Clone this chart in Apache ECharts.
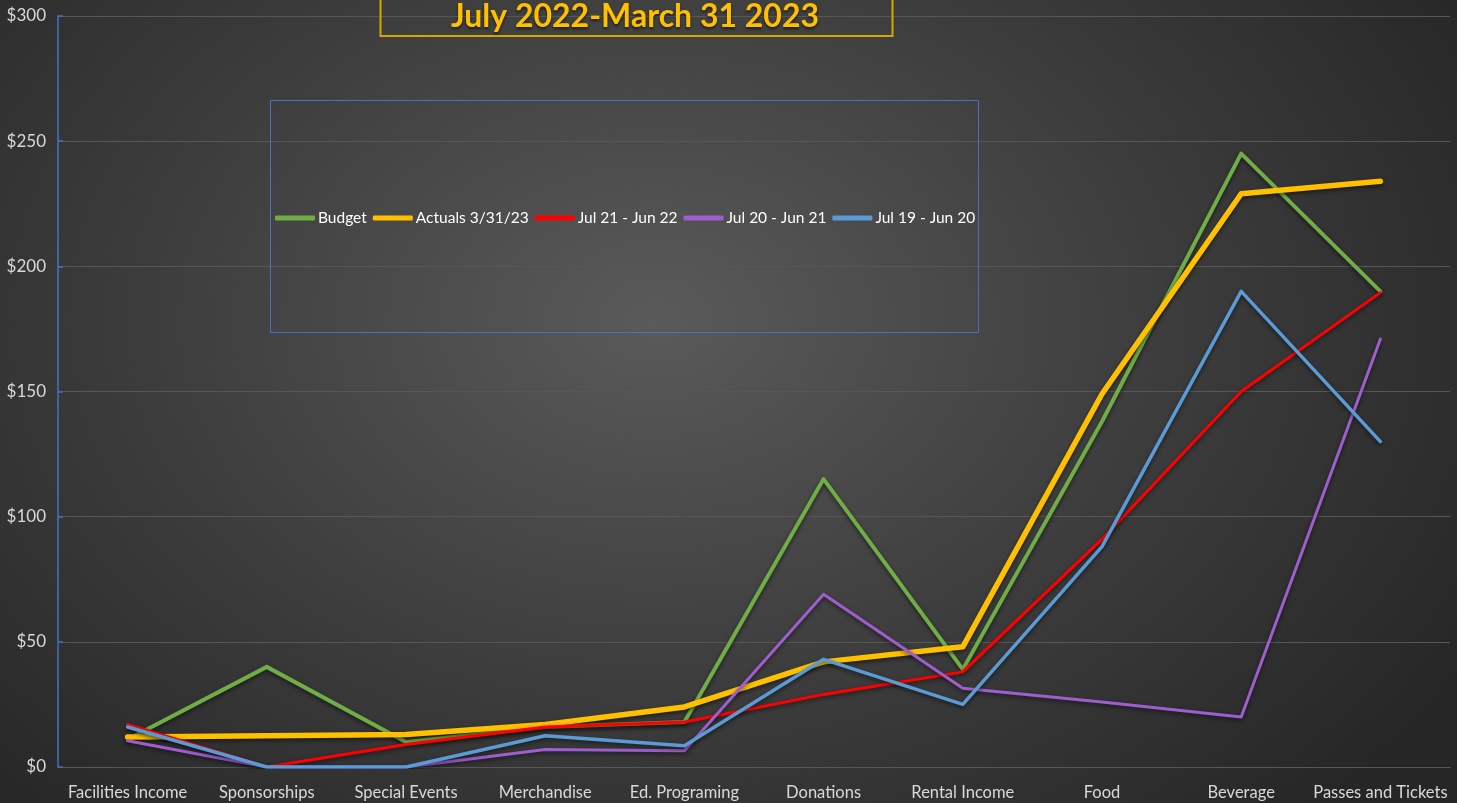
<!DOCTYPE html>
<html>
<head>
<meta charset="utf-8">
<script src="https://cdn.jsdelivr.net/npm/echarts@6/dist/echarts.min.js"></script>
<style>
  html, body { margin: 0; padding: 0; }
  body {
    width: 1457px; height: 803px; overflow: hidden;
    background: radial-gradient(ellipse 65% 85% at 45% 40%, #5a5a5a 0%, #3c3c3c 55%, #262626 100%);
  }
  #main { width: 1457px; height: 803px; }
</style>
</head>
<body>
<div id="main"></div>
<script>
const categories = ['Facilities Income', 'Sponsorships', 'Special Events', 'Merchandise', 'Ed. Programing',
  'Donations', 'Rental Income', 'Food', 'Beverage', 'Passes and Tickets'];
const budget = [11, 40, 10, 16, 18, 115, 39, 138, 245, 190];
const actuals = [12, 12.5, 13, 17, 24, 42, 48, 149, 229, 234];
const jul21 = [17, 0, 9, 16, 18, 29, 38, 91, 150, 189.5];
const jul20 = [10.5, 0, 0, 7, 6.5, 69, 31.5, 26, 20, 171];
const jul19 = [16, 0, 0, 12.5, 8.5, 43, 25, 88, 190, 130];
const yTicks = [0, 50, 100, 150, 200, 250, 300];

const fontFam = 'Lato, "Open Sans", sans-serif';

function line(name, data, color, width) {
  return {
    name: name,
    type: 'line',
    data: data,
    symbol: 'none',
    color: color,
    lineStyle: {
      color: color,
      width: width,
      cap: 'round',
      join: 'round',
      shadowColor: 'rgba(0,0,0,0.55)',
      shadowBlur: 4,
      shadowOffsetY: 2,
    },
  };
}

const chart = echarts.init(document.getElementById('main'));
chart.setOption({
  backgroundColor: 'transparent',
  animation: false,
  title: {
    text: 'July 2022-March 31 2023',
    left: 630,
    top: -4,
    textAlign: 'center',
    textStyle: {
      color: '#FFC000',
      fontFamily: fontFam,
      fontWeight: 'bold',
      fontSize: 32,
      textShadowColor: 'rgba(0,0,0,0.6)',
      textShadowBlur: 3,
      textShadowOffsetY: 2,
    },
  },
  graphic: [
    {
      type: 'rect',
      shape: { x: 380.5, y: -20, width: 512, height: 56 },
      style: { fill: 'transparent', stroke: '#D4A800', lineWidth: 2 },
      z: 1,
    },
    {
      type: 'rect',
      shape: { x: 270.5, y: 100.5, width: 708, height: 232 },
      style: { fill: 'transparent', stroke: '#4472C4', lineWidth: 1 },
      z: 1,
    },
  ],
  legend: {
    left: 275,
    top: 210,
    itemWidth: 40,
    itemHeight: 5,
    itemGap: 6,
    icon: 'roundRect',
    padding: 0,
    textStyle: { color: '#ffffff', fontSize: 15.5, fontFamily: fontFam, padding: [0, 0, 0, -2] },
    data: ['Budget', 'Actuals 3/31/23', 'Jul 21 - Jun 22', 'Jul 20 - Jun 21', 'Jul 19 - Jun 20'],
  },
  grid: {
    left: 58,
    right: 7,
    top: 16,
    bottom: 36,
    containLabel: false,
  },
  xAxis: {
    type: 'category',
    data: categories,
    boundaryGap: true,
    axisLine: { show: true, lineStyle: { color: '#575757', width: 1 } },
    axisTick: { show: false },
    axisLabel: { color: '#d9d9d9', fontSize: 16.5, fontFamily: fontFam, margin: 17, interval: 0 },
  },
  yAxis: {
    type: 'value',
    min: yTicks[0],
    max: yTicks[yTicks.length - 1],
    interval: 50,
    axisLine: { show: true, lineStyle: { color: '#4472C4', width: 1.5 } },
    axisTick: { show: true, inside: true, length: 5, lineStyle: { color: '#4472C4', width: 1.5 } },
    axisLabel: {
      color: '#d9d9d9',
      fontSize: 17,
      fontFamily: fontFam,
      margin: 12,
      formatter: function (v) { return '$' + v; },
    },
    splitLine: { show: true, lineStyle: { color: '#575757', width: 1 } },
  },
  series: [
    line('Budget', budget, '#70AD47', 4),
    line('Actuals 3/31/23', actuals, '#FFC000', 5.5),
    line('Jul 21 - Jun 22', jul21, '#FF0000', 3),
    line('Jul 20 - Jun 21', jul20, '#9E5ECE', 3),
    line('Jul 19 - Jun 20', jul19, '#5B9BD5', 3.5),
  ],
});
</script>
</body>
</html>
